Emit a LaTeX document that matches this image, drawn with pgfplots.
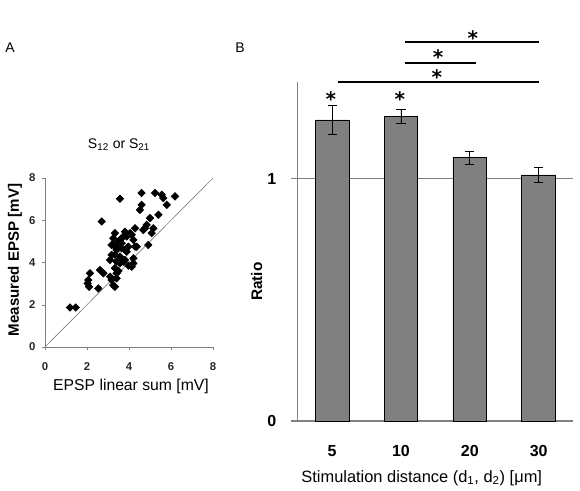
\documentclass[border=0pt]{standalone}
\usepackage{fontspec}
\setmainfont{Liberation Sans}
\newfontfamily\starfont{DejaVu Sans}
\usepackage{pgfplots}
\pgfplotsset{compat=1.18}
\begin{document}
\begin{tikzpicture}[x=1pt,y=1pt]
\path[use as bounding box] (0,0) rectangle (435,368.25);
% panel letters
\node[font=\fontsize{10.5}{12}\selectfont] at (7.5,332.25) {A};
\node[font=\fontsize{10.5}{12}\selectfont] at (180,332.25) {B};
% ---------- scatter ----------
\begin{axis}[at={(33.75pt,108pt)}, anchor=south west, scale only axis,
  width=126pt, height=126.75pt,
  xmin=0, xmax=8, ymin=0, ymax=8,
  xtick={0,2,4,6,8}, ytick={0,2,4,6,8},
  axis lines=left, axis line style={-, draw=gray},
  tick align=outside, major tick length=2.5pt, tick style={gray},
  /pgf/number format/assume math mode=true,
  ticklabel style={font=\bfseries\fontsize{8.5}{10}\selectfont, text=black!85},
  xticklabel style={anchor=center, yshift=-12pt},
  yticklabel style={anchor=center, xshift=-7pt},
  clip=false]
\addplot[gray, line width=0.5pt] coordinates {(0,0) (8,8)};
\addplot[only marks, mark=square*, mark size=2pt, mark options={rotate=45, fill=black, draw=black}] coordinates {
(1.19,1.87) (1.46,1.87) (2.03,3.01) (2.06,3.17) (2.14,3.49) (2.10,2.85)
(2.54,2.77) (2.62,3.64) (2.78,3.49) (2.70,5.94) (3.10,3.33) (3.17,3.17)
(3.25,2.93) (3.33,2.85) (3.33,3.73) (3.41,3.49) (3.41,3.25) (3.10,4.12)
(3.17,4.36) (3.17,4.83) (3.25,5.15) (3.33,5.39) (3.25,4.83) (3.33,4.36)
(3.41,4.04) (3.41,4.59) (3.41,4.75) (3.49,4.99) (3.57,3.96) (3.57,4.28)
(3.57,7.02) (3.65,4.67) (3.65,4.91) (3.73,4.04) (3.81,4.12) (3.81,4.59)
(3.81,5.46) (3.89,4.51) (3.89,5.23) (3.97,4.75) (3.97,3.85) (4.05,5.39)
(4.13,3.80) (4.13,5.31) (4.21,3.96) (4.21,4.20) (4.21,5.07) (4.29,4.75)
(4.29,5.62) (4.37,4.75) (4.52,6.49) (4.60,6.73) (4.60,7.29) (4.68,5.54)
(4.76,5.62) (4.84,5.78) (4.92,4.83) (5.00,6.10) (5.08,5.39) (5.16,5.62)
(5.24,7.29) (5.40,6.26) (5.56,7.21) (5.63,7.05) (5.80,6.73) (6.19,7.13)
(3.50,3.60) (3.60,5.10) (3.70,5.20)
};
\end{axis}
\node[font=\fontsize{10.5}{12}\selectfont] at (89.25,259.5) {S\textsubscript{12} or S\textsubscript{21}};
\node[font=\fontsize{11.8}{13}\selectfont] at (98.25,78.2) {EPSP linear sum [mV]};
\node[font=\bfseries\fontsize{11.3}{13}\selectfont, rotate=90] at (11.25,173.25) {Measured EPSP [mV]};
% ---------- bars ----------
\begin{axis}[at={(223.3pt,52.5pt)}, anchor=south west, scale only axis,
  width=206.5pt, height=254.5pt,
  xmin=-0.5, xmax=3.5, ymin=0, ymax=1.4,
  xtick={0,1,2,3}, xticklabels={5,10,20,30},
  xtick style={draw=none},
  extra x ticks={-0.5,0.5,1.5,2.5,3.5}, extra x tick labels={},
  extra x tick style={tick style={draw=gray}, major tick length=6pt},
  ytick={0,1}, ymajorgrids, major grid style={gray, line width=0.6pt},
  axis lines=left, axis line style={-, draw=gray, line width=0.8pt},
  tick align=outside, major tick length=5pt, ytick style={draw=gray, line width=0.8pt},
  /pgf/number format/assume math mode=true,
  ticklabel style={font=\bfseries\fontsize{12}{14}\selectfont},
  xticklabel style={anchor=center, yshift=-17.75pt},
  yticklabel style={anchor=center, xshift=-14.5pt},
  clip=false]
\addplot[ybar, bar width=0.49, fill=gray, draw=black, line width=0.6pt,
  error bars/.cd, y dir=both, y explicit,
  error bar style={black, line width=0.6pt},
  error mark options={rotate=90, mark size=3.4pt, black, line width=0.6pt}]
  coordinates {
  (0,1.242) +- (0,0.058)
  (1,1.255) +- (0,0.029)
  (2,1.086) +- (0,0.026)
  (3,1.015) +- (0,0.031)
  };
\draw[black, line width=1.3pt] (axis cs:1.06,1.563) -- (axis cs:3.01,1.563);
\draw[black, line width=1.3pt] (axis cs:1.06,1.477) -- (axis cs:2.09,1.477);
\draw[black, line width=1.3pt] (axis cs:0.09,1.400) -- (axis cs:3.01,1.400);
\node[anchor=north, inner sep=0pt, font=\starfont\bfseries\fontsize{15}{16}\selectfont] at (axis cs:2.045,1.610) {*};
\node[anchor=north, inner sep=0pt, font=\starfont\bfseries\fontsize{15}{16}\selectfont] at (axis cs:1.54,1.534) {*};
\node[anchor=north, inner sep=0pt, font=\starfont\bfseries\fontsize{15}{16}\selectfont] at (axis cs:1.52,1.450) {*};
\node[anchor=north, inner sep=0pt, font=\starfont\bfseries\fontsize{15}{16}\selectfont] at (axis cs:-0.02,1.361) {*};
\node[anchor=north, inner sep=0pt, font=\starfont\bfseries\fontsize{15}{16}\selectfont] at (axis cs:0.985,1.361) {*};
\end{axis}
\node[font=\bfseries\fontsize{11.5}{13}\selectfont, rotate=90] at (192.5,157) {Ratio};
\node[font=\fontsize{12.3}{14}\selectfont] at (316.3,9.75) {Stimulation distance (d\textsubscript{1}, d\textsubscript{2}) [μm]};
\end{tikzpicture}
\end{document}
